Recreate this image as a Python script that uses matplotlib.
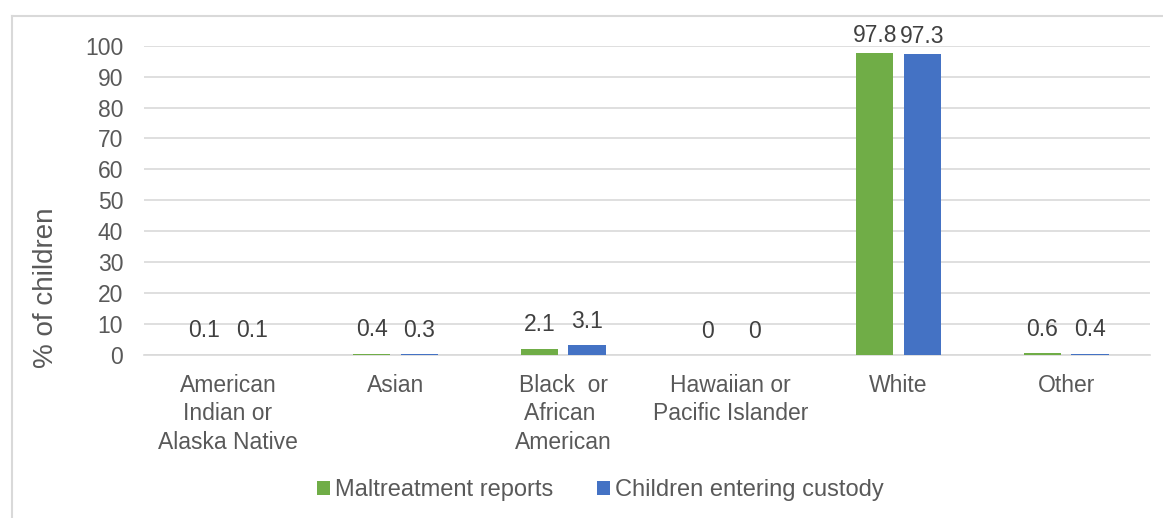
import numpy as np
import matplotlib
matplotlib.use("Agg")
import matplotlib.pyplot as plt
from matplotlib.lines import Line2D

# data
categories = ["American\nIndian or\nAlaska Native", "Asian", "Black  or\nAfrican \nAmerican",
              "Hawaiian or\nPacific Islander", "White", "Other"]
maltreatment = [0.1, 0.4, 2.1, 0, 97.8, 0.6]
custody = [0.1, 0.3, 3.1, 0, 97.3, 0.4]
series_names = ["Maltreatment reports", "Children entering custody"]
yticks = list(range(0, 101, 10))

plt.rcParams["font.family"] = ["Liberation Sans", "DejaVu Sans"]
grey = "#595959"
fs = 16.5

fig = plt.figure(figsize=(11.63, 5.18), dpi=100)
ax = fig.add_axes([144 / 1163, 1 - 355 / 518, (1150 - 144) / 1163, (355 - 45.7) / 518])

x = np.arange(len(categories))
w = 0.222
off = 0.142
b1 = ax.bar(x - off, maltreatment, w, color="#70AD47", label=series_names[0], zorder=3)
b2 = ax.bar(x + off, custody, w, color="#4472C4", label=series_names[1], zorder=3)

for bars, vals in ((b1, maltreatment), (b2, custody)):
    for rect, v in zip(bars, vals):
        # excel pushes labels down when they would leave the plot area
        dy = 9 if v < 90 else 4
        ax.annotate(f"{v:g}", (rect.get_x() + rect.get_width() / 2, rect.get_height()),
                    xytext=(0, dy), textcoords="offset points", ha="center", va="bottom",
                    fontsize=fs, color="#404040", annotation_clip=False)

ax.set_xlim(-0.5, len(categories) - 0.5)
ax.set_ylim(0, 100)
ax.set_yticks(yticks)
ax.set_xticks(x)
ax.set_xticklabels(categories, fontsize=fs, color=grey, linespacing=1.28)
ax.tick_params(axis="y", length=0, pad=15, labelsize=fs, labelcolor=grey)
ax.tick_params(axis="x", length=0, pad=14)
ax.yaxis.grid(True, color="#D9D9D9", linewidth=1.2, zorder=0)
ax.set_axisbelow(True)
for s in ["top", "right", "left"]:
    ax.spines[s].set_visible(False)
ax.spines["bottom"].set_color("#D9D9D9")
ax.spines["bottom"].set_linewidth(1.2)

fig.text(46 / 1163, 1 - 288 / 518, "% of children", rotation=90, ha="center", va="center",
         fontsize=20, color=grey)

fig.legend(loc="center", bbox_to_anchor=(600 / 1163, 1 - 490 / 518), ncol=2, frameon=False,
           fontsize=17, labelcolor=grey, handlelength=0.55, handleheight=0.55,
           handletextpad=0.21, columnspacing=1.86)

# chart border (left and top edges visible)
fig.add_artist(Line2D([12 / 1163, 12 / 1163], [0, 1 - 16 / 518], transform=fig.transFigure,
                      color="#D9D9D9", linewidth=1.5))
fig.add_artist(Line2D([12 / 1163, 1], [1 - 16 / 518, 1 - 16 / 518], transform=fig.transFigure,
                      color="#D9D9D9", linewidth=1.5))

fig.savefig("out.png", dpi=100)
